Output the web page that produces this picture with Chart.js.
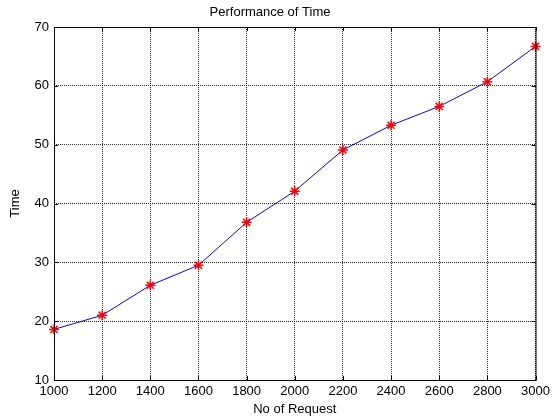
<!DOCTYPE html>
<html>
<head>
<meta charset="utf-8">
<script src="https://cdn.jsdelivr.net/npm/chart.js@4"></script>
<style>
  body { margin: 0; background: #fff; }
</style>
</head>
<body>
<canvas id="myChart" width="554" height="419"></canvas>
<script>
// Performance of Time - MATLAB style line plot
const requests = [1000, 1200, 1400, 1600, 1800, 2000, 2200, 2400, 2600, 2800, 3000];
const times = [18.6, 21.0, 26.1, 29.5, 36.8, 42.1, 49.1, 53.3, 56.5, 60.7, 66.7];
const xTicks = [1000, 1200, 1400, 1600, 1800, 2000, 2200, 2400, 2600, 2800, 3000];
const yTicks = [10, 20, 30, 40, 50, 60, 70];

const fontFamily = "'Liberation Sans', Arial, sans-serif";

// box around the axes + small inward ticks on all sides
const boxPlugin = {
  id: 'box',
  afterDatasetsDraw(chart) {
    const { ctx, chartArea: a, scales } = chart;
    ctx.save();
    ctx.strokeStyle = '#000';
    ctx.lineWidth = 1;
    ctx.strokeRect(a.left + 0.5, a.top + 0.5, a.right - a.left, a.bottom - a.top);
    ctx.beginPath();
    xTicks.forEach(v => {
      const px = Math.round(scales.x.getPixelForValue(v)) + 0.5;
      ctx.moveTo(px, a.bottom); ctx.lineTo(px, a.bottom - 4);
      ctx.moveTo(px, a.top); ctx.lineTo(px, a.top + 4);
    });
    yTicks.forEach(v => {
      const py = Math.round(scales.y.getPixelForValue(v)) + 0.5;
      ctx.moveTo(a.left, py); ctx.lineTo(a.left + 4, py);
      ctx.moveTo(a.right, py); ctx.lineTo(a.right - 4, py);
    });
    ctx.stroke();
    ctx.restore();
  }
};

const ctx = document.getElementById('myChart').getContext('2d');

new Chart(ctx, {
  type: 'line',
  data: {
    datasets: [{
      data: requests.map((r, i) => ({ x: r, y: times[i] })),
      borderColor: '#0000ff',
      borderWidth: 1,
      pointStyle: 'star',
      pointRadius: 5,
      pointBorderColor: '#ff0000',
      pointBackgroundColor: '#ff0000',
      pointBorderWidth: 1.5,
      tension: 0,
      clip: false
    }]
  },
  options: {
    responsive: false,
    animation: false,
    layout: { padding: { left: 0, right: 14, top: 0, bottom: 0 } },
    plugins: {
      legend: { display: false },
      tooltip: { enabled: false },
      title: {
        display: true,
        text: 'Performance of Time',
        color: '#000',
        font: { family: fontFamily, size: 13, weight: 'normal', lineHeight: 1.2 },
        padding: { top: 5, bottom: 6.4 }
      }
    },
    scales: {
      x: {
        type: 'linear',
        min: 1000,
        max: 3000,
        afterFit(scale) { scale.height = 39; },
        afterBuildTicks(scale) { scale.ticks = xTicks.map(v => ({ value: v })); },
        grid: {
          color: 'rgba(0,0,0,0.85)',
          drawTicks: false
        },
        border: { display: false, dash: [1, 1] },
        ticks: {
          color: '#000',
          padding: 4,
          maxRotation: 0,
          font: { family: fontFamily, size: 13 },
          callback: v => String(v)
        },
        title: {
          display: true,
          text: 'No of Request',
          color: '#000',
          font: { family: fontFamily, size: 13 },
          padding: { top: 0, bottom: 2 }
        }
      },
      y: {
        min: 10,
        max: 70,
        afterFit(scale) { scale.width = 54; },
        afterBuildTicks(scale) { scale.ticks = yTicks.map(v => ({ value: v })); },
        grid: {
          color: 'rgba(0,0,0,0.85)',
          drawTicks: false
        },
        border: { display: false, dash: [1, 1] },
        ticks: {
          color: '#000',
          padding: 5,
          font: { family: fontFamily, size: 13 },
          callback: v => String(v)
        },
        title: {
          display: true,
          text: 'Time',
          color: '#000',
          font: { family: fontFamily, size: 13 },
          padding: 8
        }
      }
    }
  },
  plugins: [boxPlugin]
});
</script>
</body>
</html>
